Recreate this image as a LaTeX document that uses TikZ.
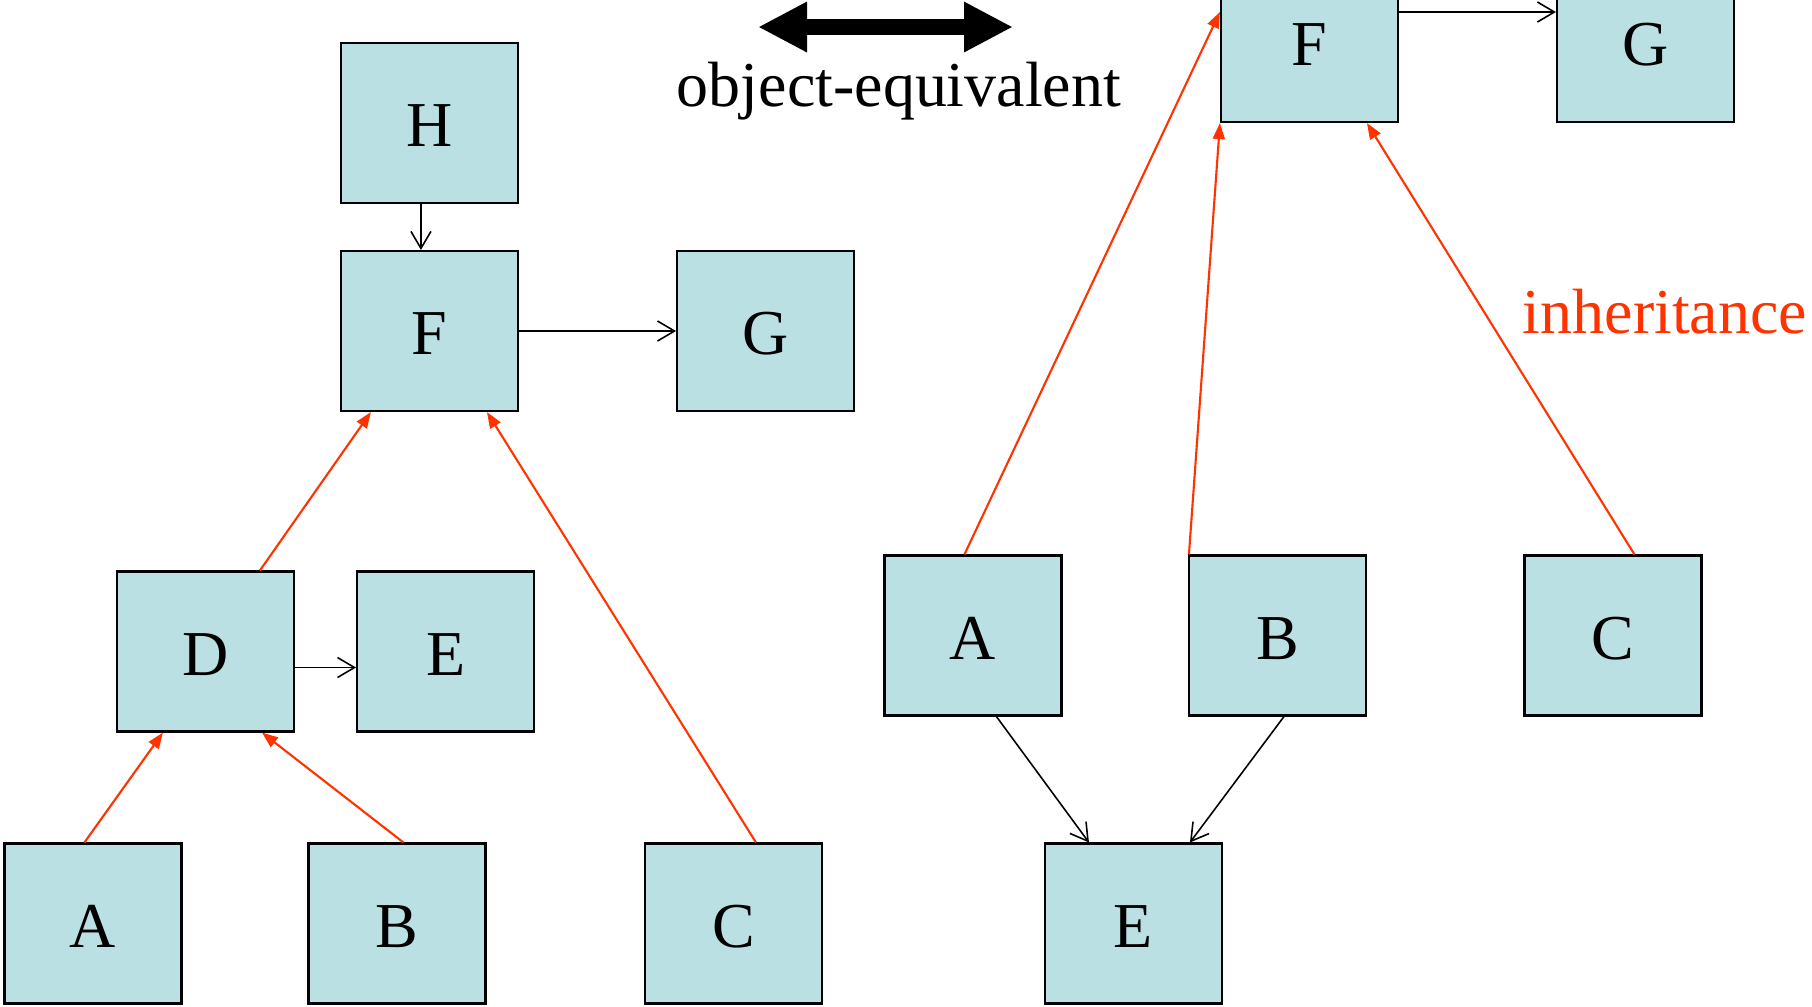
\documentclass[tikz,border=0pt]{standalone}
\usepackage{fontspec}
\setmainfont{Liberation Serif}
\usepackage{tikz}
\usetikzlibrary{positioning,arrows.meta}

\definecolor{boxfill}{HTML}{BBE0E3}
\definecolor{inhred}{HTML}{FF3300}

\tikzset{
	box/.style={draw=black, fill=boxfill, line width=0.6pt, minimum width=1.77cm, minimum height=1.6cm, inner sep=0pt, text height=0.47cm, text depth=0pt, font=\fontsize{18.2}{22}\selectfont},
	assoc/.style={-{Straight Barb[length=0.17cm,width=0.2cm]}, line width=0.45pt},
	inherit/.style={draw=inhred, -{Triangle[length=0.16cm,width=0.12cm]}, line width=0.6pt},
	lbl/.style={font=\fontsize{18.2}{22}\selectfont, inner sep=0pt}
}

\begin{document}
\begin{tikzpicture}
	\useasboundingbox (0,0) rectangle (18.12,-10.06);
	% left hierarchy
	\node[box] (lH) at (4.295,-1.23) {H};
	\node[box] (lF) at (4.295,-3.31) {F};
	\node[box, right=1.57cm of lF] (lG) {G};
	\node[box] (lD) at (2.055,-6.515) {D};
	\node[box, right=0.61cm of lD] (lE) {E};
	\node[box] (lA) at (0.93,-9.235) {A};
	\node[box] (lB) at (3.97,-9.235) {B};
	\node[box] (lC) at (7.335,-9.235) {C};
	
	\draw[assoc] ([xshift=0.81cm]lH.south west) -- ([xshift=0.81cm]lF.north west);
	\draw[assoc] (lF.east) -- (lG.west);
	\draw[assoc] ([yshift=-0.16cm]lD.east) -- ([yshift=-0.16cm]lE.west);
	\draw[inherit] ([xshift=1.44cm]lD.north west) -- ([xshift=0.31cm]lF.south west);
	\draw[inherit] ([xshift=0.81cm]lA.north west) -- ([xshift=0.47cm]lD.south west);
	\draw[inherit] ([xshift=0.96cm]lB.north west) -- ([xshift=1.46cm]lD.south west);
	\draw[inherit] ([xshift=1.12cm]lC.north west) -- ([xshift=1.47cm]lF.south west);
	
	% object-equivalent sign
	\coordinate (eqL) at (7.58,-0.27);
	\coordinate (eqR) at (10.13,-0.27);
	\draw[line width=0.16cm, {Triangle[length=0.49cm,width=0.47cm]}-{Triangle[length=0.49cm,width=0.47cm]}] (eqL) -- (eqR);
	\node[lbl, anchor=base] (eqtext) at (8.99,-1.06) {object-equivalent};
	
	% right hierarchy
	\node[box] (rF) at (13.095,-0.42) {F};
	\node[box] (rG) at (16.455,-0.42) {G};
	\node[box] (rA) at (9.73,-6.355) {A};
	\node[box] (rB) at (12.775,-6.355) {B};
	\node[box] (rC) at (16.13,-6.355) {C};
	\node[box] (rE) at (11.335,-9.235) {E};
	
	\draw[assoc] ([yshift=0.3cm]rF.east) -- ([yshift=0.3cm]rG.west);
	\draw[assoc] ([xshift=1.13cm]rA.south west) -- ([xshift=0.45cm]rE.north west);
	\draw[assoc] ([xshift=0.96cm]rB.south west) -- ([xshift=1.46cm]rE.north west);
	\draw[inherit] ([xshift=0.81cm]rA.north west) -- ([yshift=-0.51cm]rF.north west);
	\draw[inherit] ([xshift=0.01cm]rB.north west) -- (rF.south west);
	\draw[inherit] ([xshift=1.11cm]rC.north west) -- ([xshift=1.47cm]rF.south west);
	
	\node[lbl, text=inhred, anchor=base] (inhtext) at (16.65,-3.33) {inheritance};
\end{tikzpicture}
\end{document}
